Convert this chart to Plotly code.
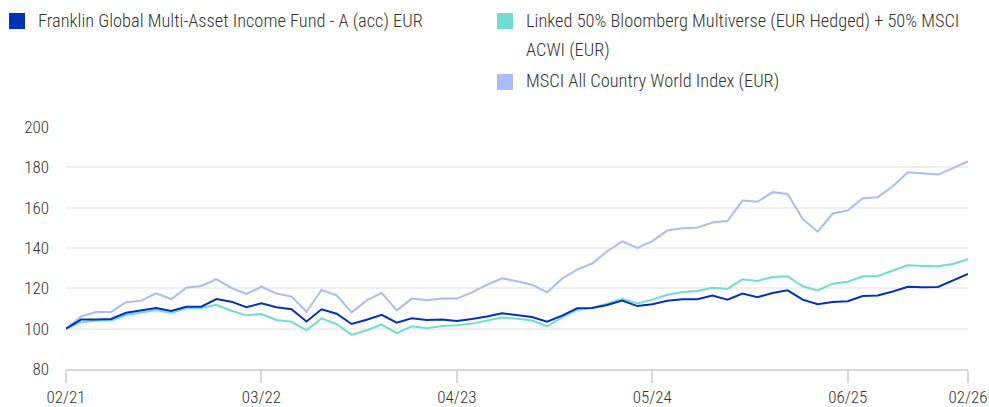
import plotly.graph_objects as go
import pandas as pd

months = list(pd.period_range("2021-02", periods=61, freq="M").strftime("%m/%y"))
tick_labels = ["02/21", "03/22", "04/23", "05/24", "06/25", "02/26"]
y_ticks = [80, 100, 120, 140, 160, 180, 200]

fund = [100, 104.5, 104.5, 104.8, 107.9, 109.1, 110.3, 108.8, 110.9, 110.9,
        114.7, 113.4, 110.6, 112.6, 110.6, 109.6, 103.6, 109.6, 107.4, 102.3,
        104.4, 106.9, 103.0, 105.1, 104.3, 104.5, 103.8, 104.8, 106.0, 107.6,
        106.6, 105.8, 103.5, 106.5, 110.1, 110.3, 111.7, 113.9, 111.2, 112.1,
        113.8, 114.6, 114.6, 116.4, 114.4, 117.4, 115.6, 117.7, 119.0, 114.4,
        112.1, 113.2, 113.6, 116.2, 116.4, 118.4, 120.8, 120.5, 120.7, 123.8,
        127.1]
linked = [100, 103.1, 104.0, 104.0, 106.8, 108.1, 109.3, 107.8, 110.1, 110.3,
          111.8, 108.9, 106.6, 107.3, 104.3, 103.5, 99.2, 105.1, 102.3, 96.9,
          99.2, 102.0, 97.8, 101.2, 100.2, 101.3, 101.7, 102.5, 104.0, 105.5,
          104.9, 104.0, 101.2, 105.6, 109.3, 110.4, 112.4, 114.8, 112.5, 114.4,
          116.8, 118.2, 118.7, 120.3, 119.7, 124.5, 123.7, 125.6, 126.0, 121.0,
          119.0, 122.3, 123.3, 126.0, 126.1, 128.8, 131.4, 131.1, 130.9, 132.1,
          134.4]
acwi = [100, 106.1, 108.3, 108.3, 113.1, 113.9, 117.5, 114.7, 120.3, 121.2,
        124.6, 120.2, 117.2, 120.8, 117.4, 115.9, 108.4, 119.2, 116.5, 108.1,
        114.0, 117.7, 109.1, 114.9, 114.1, 114.9, 114.9, 118.0, 121.7, 125.0,
        123.5, 121.8, 118.0, 124.8, 129.3, 132.3, 138.4, 143.3, 140.0, 143.4,
        148.7, 149.8, 150.1, 152.6, 153.4, 163.5, 162.9, 167.7, 166.8, 154.4,
        148.1, 157.1, 158.6, 164.7, 165.2, 170.6, 177.6, 176.9, 176.4, 179.6,
        183.0]

names = ["Franklin Global Multi-Asset Income Fund - A (acc) EUR",
         "Linked 50% Bloomberg Multiverse (EUR Hedged) + 50% MSCI ACWI (EUR)",
         "MSCI All Country World Index (EUR)"]
colors = ["#0033b8", "#70dcd2", "#aabcf8"]

W, H = 989, 407
PL, PR, PT, PB = 66, 968, 127, 369          # plot box in window pixels
L, R, T, B = PL, W - PR, PT, H - PB
pw, ph = PR - PL, PB - PT

def px(x):
    return (x - PL) / pw

def py(y):
    return (PB - y) / ph

fig = go.Figure()
for series, name, color in [(acwi, names[2], colors[2]), (linked, names[1], colors[1]), (fund, names[0], colors[0])]:
    fig.add_trace(go.Scatter(x=months, y=series, name=name, mode="lines",
                             line=dict(color=color, width=2), showlegend=False))

FONT = "Roboto Condensed"
legend_font = dict(family=FONT, size=18.4, color="#333333", weight=300)

# custom legend: (square left px, square top px, text lines, first line center px)
legend_items = [
    (9, 13, [names[0]], 21, colors[0]),
    (497, 13, ["Linked 50% Bloomberg Multiverse (EUR Hedged) + 50% MSCI", "ACWI (EUR)"], 21, colors[1]),
    (497, 74, [names[2]], 81, colors[2]),
]
shapes = []
annotations = []
for sx, sy, lines, cy, color in legend_items:
    shapes.append(dict(type="rect", xref="paper", yref="paper", x0=px(sx), x1=px(sx + 16),
                       y0=py(sy + 16), y1=py(sy), fillcolor=color, line=dict(width=0), layer="above"))
    for j, line in enumerate(lines):
        annotations.append(dict(xref="paper", yref="paper", x=px(sx + 27), y=py(cy + j * 29),
                                xanchor="left", yanchor="middle", text=line, showarrow=False,
                                font=legend_font))

fig.update_layout(
    width=W, height=H, margin=dict(l=L, r=R, t=T, b=B, autoexpand=False),
    paper_bgcolor="white", plot_bgcolor="white",
    font=dict(family=FONT, size=17, color="#333333", weight=300),
    shapes=shapes, annotations=annotations,
    xaxis=dict(type="category", range=[0, 60], tickmode="array", tickvals=tick_labels, ticktext=tick_labels,
               showgrid=False, showline=True, linecolor="#d9d9d9", linewidth=2, automargin=False,
               ticks="outside", ticklen=12, tickwidth=2, tickcolor="#d9d9d9", zeroline=False),
    yaxis=dict(range=[80, 200], tickvals=y_ticks, showgrid=True, gridcolor="#efefef", gridwidth=2,
               zeroline=False, showline=False, ticks="", ticklabelstandoff=16, automargin=False),
)
fig.write_html("out.html", config={"displayModeBar": False},
               post_script="document.body.style.margin='0';document.body.style.overflow='hidden';")
